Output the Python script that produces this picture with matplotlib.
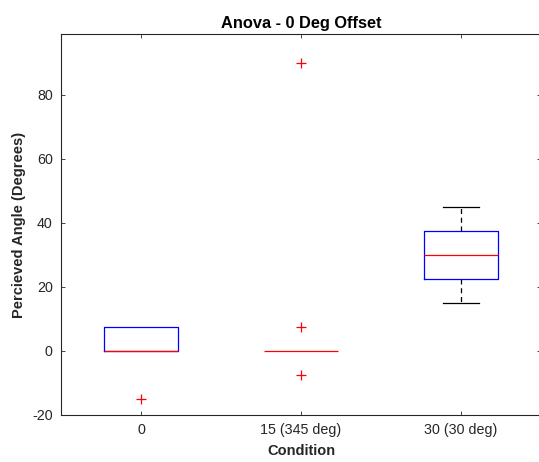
import matplotlib
matplotlib.use("Agg")
import matplotlib.pyplot as plt

plt.rcParams['font.family'] = ['Liberation Sans', 'DejaVu Sans']
plt.rcParams['axes.unicode_minus'] = False

categories = ["0", "15 (345 deg)", "30 (30 deg)"]
medians = [0, 0, 30]
q1 = [0, 0, 22.5]
q3 = [7.5, 0, 37.5]
whislo = [0, 0, 15]
whishi = [7.5, 0, 45]
fliers = [[-15], [90, 7.5, -7.5], []]
yticks = [-20, 0, 20, 40, 60, 80]

stats = []
for i, c in enumerate(categories):
    stats.append(dict(label=c, med=medians[i], q1=q1[i], q3=q3[i],
                      whislo=whislo[i], whishi=whishi[i], fliers=fliers[i]))

fig = plt.figure(figsize=(5.39, 4.62), dpi=100)
W, H = 539, 462
ax = fig.add_axes([61 / W, 1 - 415 / H, (541 - 61) / W, (415 - 34) / H])

gray = '#262626'
res = ax.bxp(stats, positions=[1, 2, 3], widths=0.46, showfliers=True,
             boxprops=dict(color='#0000ff', linewidth=0.9, zorder=2.2),
             medianprops=dict(color='#ff0000', linewidth=0.9, zorder=2.4),
             whiskerprops=dict(color='black', linestyle=(0, (4, 3)), linewidth=0.9, zorder=2),
             capprops=dict(color='black', linewidth=0.9, zorder=2),
             capwidths=0.23,
             flierprops=dict(marker='+', markeredgecolor='#ff0000', markersize=7,
                             markeredgewidth=0.9, linestyle='none'))

# hide zero-length whiskers / caps sitting on box edges, and collapsed boxes
for i in range(len(categories)):
    if whislo[i] == q1[i]:
        res['caps'][2 * i].set_visible(False)
        res['whiskers'][2 * i].set_visible(False)
    if whishi[i] == q3[i]:
        res['caps'][2 * i + 1].set_visible(False)
        res['whiskers'][2 * i + 1].set_visible(False)
    if q1[i] == q3[i]:
        res['boxes'][i].set_visible(False)

ax.set_xlim(0.5, 3.5)
ax.set_ylim(-20, 99)
ax.set_yticks(yticks)
ax.set_xticks([1, 2, 3])
ax.set_xticklabels(categories)
for s in ax.spines.values():
    s.set_color(gray)
    s.set_linewidth(0.8)
ax.tick_params(direction='in', top=True, right=True, length=3, width=0.6,
               colors=gray, labelsize=10.3, pad=6)
for lab in ax.get_xticklabels() + ax.get_yticklabels():
    lab.set_color(gray)

ax.set_title("Anova - 0 Deg Offset", fontsize=11.8, fontweight='bold', pad=4)
ax.set_xlabel("Condition", fontsize=10.5, fontweight='bold', color=gray, labelpad=5)
ax.set_ylabel("Percieved Angle (Degrees)", fontsize=10.5, fontweight='bold', color=gray, labelpad=4)

fig.savefig("out.png", dpi=100)
